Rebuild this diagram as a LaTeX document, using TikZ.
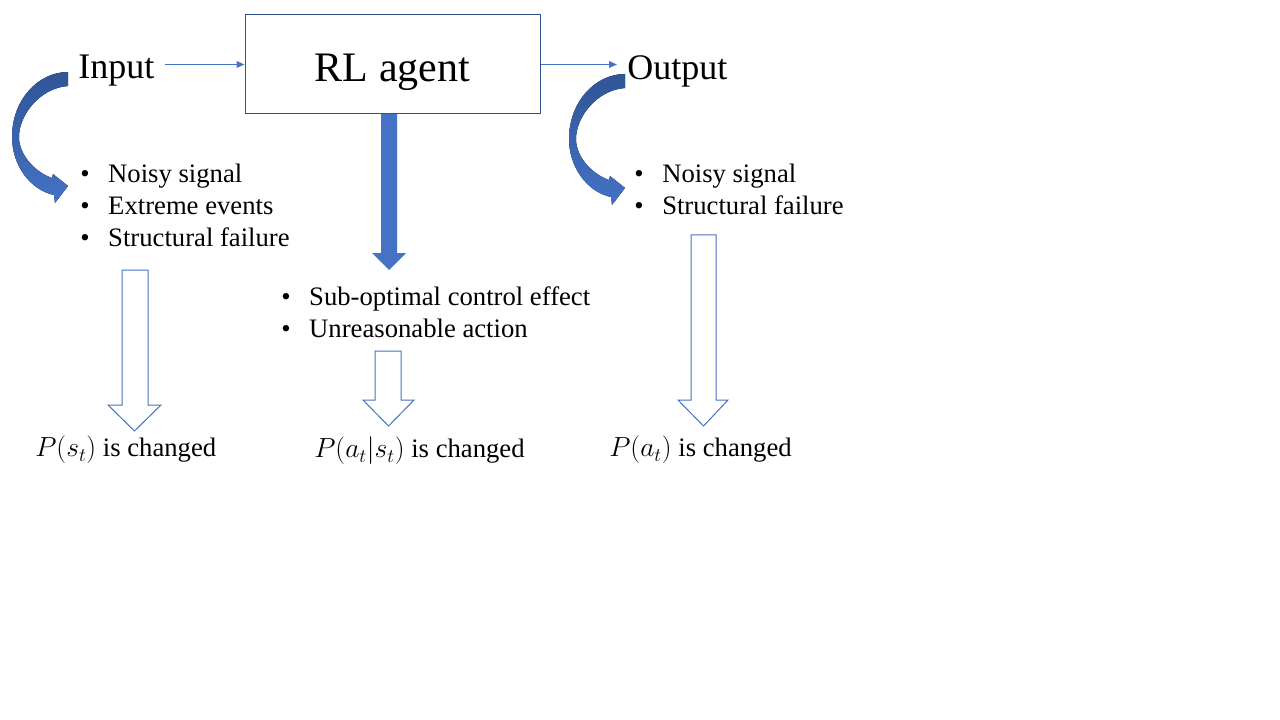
\documentclass[tikz,border=0pt]{standalone}
\usepackage{fontspec}
\setmainfont{Liberation Serif}
\usetikzlibrary{arrows.meta}
\definecolor{accent}{HTML}{4472C4}
\definecolor{accentdark}{HTML}{2F5597}
\definecolor{boxline}{HTML}{2F528F}
\newcommand\bul{\makebox[21pt][l]{•}}
\begin{document}
\begin{tikzpicture}[x=0.75pt,y=-0.75pt,
  big/.style={font=\fontsize{27}{32}\selectfont, inner sep=0pt},
  listtext/.style={font=\fontsize{20}{24}\selectfont, align=left, inner sep=0pt},
  conn/.style={draw=accent, line width=1.1pt, -{Triangle[length=6pt,width=5pt]}},
  hollow/.style={draw=accent, line width=0.75pt, fill=white},
  curvearrow/.pic={
    \fill[top color=accentdark, bottom color=accent]
      (0,0) -- (0,14) .. controls (-28,16) and (-49,43) .. (-49,65)
      .. controls (-49,83) and (-33,100) .. (-16,106) -- (-15,102) -- (0,114)
      -- (-13,131) -- (-14,123) .. controls (-38,118) and (-56,93) .. (-56,65)
      .. controls (-56,28) and (-30,0) .. (0,0) -- cycle;
  }]
\useasboundingbox[fill=white] (0,0) rectangle (1280,720);

% main box and labels
\node[draw=boxline, line width=0.75pt, minimum width=221.25pt, minimum height=74.25pt,
      inner sep=0pt, text height=32pt, text depth=6.9pt,
      font=\fontsize{31.5}{36}\selectfont] (agent) at (392.5,64.5) {RL agent};
\node[big, anchor=west] (input) at (78,71) {Input};
\node[big, anchor=west] (output) at (627,71) {Output};

\draw[conn, shorten <=7.5pt] (input.east |- agent.west) -- (agent.west);
\draw[conn, shorten >=7.5pt] (agent.east) -- (output.west |- agent.east);

% curved arrows
\pic at (68,72) {curvearrow};
\pic at (625,74) {curvearrow};

% solid down arrow from agent
\fill[accent] (381,114) -- (397,114) -- (397,253) -- (406,253) -- (389,270)
  -- (372,253) -- (381,253) -- cycle;

% lists
\node[listtext, anchor=west] (l1) at (80,205)
  {\bul Noisy signal\\ \bul Extreme events\\ \bul Structural failure};
\node[listtext, anchor=west] (m1) at (281,312)
  {\bul Sub-optimal control effect\\ \bul Unreasonable action};
\node[listtext, anchor=west] (r1) at (634,189)
  {\bul Noisy signal\\ \bul Structural failure};

% hollow arrows
\draw[hollow] (122,270) -- (148,270) -- (148,405) -- (161,405) -- (134.5,431)
  -- (108,405) -- (122,405) -- cycle;
\draw[hollow] (375,351) -- (401,351) -- (401,400) -- (414,400) -- (388.5,426)
  -- (363,400) -- (375,400) -- cycle;
\draw[hollow] (691,235) -- (716,235) -- (716,400) -- (728,400) -- (703.5,426)
  -- (678,400) -- (691,400) -- cycle;

% results
\node[listtext, anchor=west] (ps) at (35,450) {$P(s_t)$ is changed};
\node[listtext, anchor=west] (pas) at (314,451) {$P(a_t|s_t)$ is changed};
\node[listtext, anchor=west] (pa) at (609,450) {$P(a_t)$ is changed};
\end{tikzpicture}
\end{document}
